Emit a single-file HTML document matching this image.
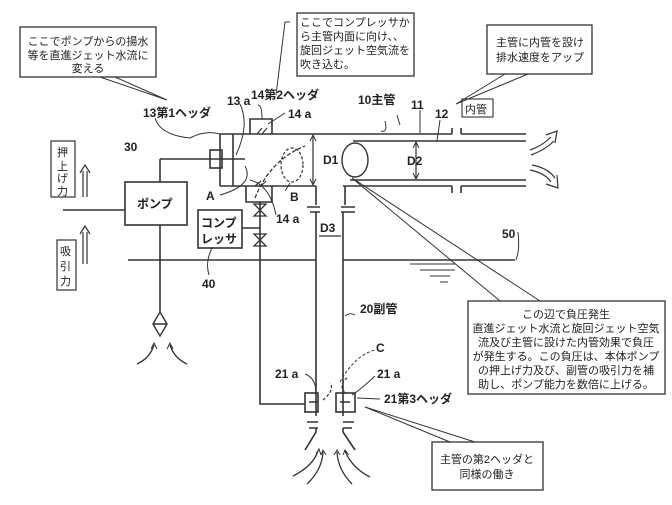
<!DOCTYPE html>
<html><head><meta charset="utf-8"><style>
body{margin:0;background:#fff}
svg{display:block}
text{font-family:"Liberation Sans","Noto Sans CJK JP",sans-serif;fill:#222}
.b{font-weight:bold;font-size:12px}
.s{font-size:11px}
</style></head><body>
<svg width="672" height="505" viewBox="0 0 672 505" xmlns="http://www.w3.org/2000/svg">
<g stroke="#333" stroke-width="1.6" fill="none">
<!-- callout boxes -->
<rect x="20" y="27" width="136" height="50" stroke-width="1.3"/>
<path d="M100 77 L167 100 L115 77" stroke-width="1"/>
<rect x="297" y="13" width="117" height="63" stroke-width="1.3"/>
<path d="M290 22 L285 22 L276 95" stroke-width="1"/>
<rect x="487" y="25" width="105" height="49" stroke-width="1.3"/>
<path d="M505 74 L456 104 L528 74" stroke-width="1"/>
<rect x="462" y="99" width="31" height="18" stroke-width="1.1"/>
<rect x="468" y="301" width="197" height="93" stroke-width="1.3"/>
<path d="M352 178 L500 301 M352 178 L540 301" stroke-width="1"/>
<rect x="432" y="442" width="111" height="48" stroke-width="1.3"/>
<path d="M365 407 L450 442 M365 407 L475 442" stroke-width="1"/>

<!-- main pipe -->
<path d="M220 134 H452 M461 134 H526 M452 128 V134 M461 128 V134"/>
<path d="M353 141 H526 M350 180 H526"/>
<path d="M343 186 H452 M461 186 H526 M452 186 V193 M461 186 V193"/>
<path d="M220 134 V186 M233 134 V186 M220 186 H316"/>
<rect x="210" y="150" width="12" height="18"/>
<path d="M210 159 H245 M160 159 H210 M160 159 V182"/>
<!-- header 14 -->
<path d="M250 134 V119 H272 V134 M246 186 V202 H272 V186"/>
<path d="M257 134 L262 128 M262 134 L267 128 M255 186 L261 181 M261 186 L266 181" stroke-width="1.2"/>
<!-- D1, D2 -->
<path d="M313 136 V184 M416 143 V178" stroke-width="1.2"/>
<path d="M310 141 L313 135 L316 141 M310 179 L313 185 L316 179 M413 148 L416 142 L419 148 M413 173 L416 179 L419 173" stroke-width="1"/>
<!-- sub pipe -->
<path d="M316 186 V205 M307 207 H320 M310 212 H320 M316 212 V416 M345 186 V205 M341 207 H355 M341 212 H355 M343 212 V416"/>
<path d="M319 236 H341" stroke-width="1.2"/>
<!-- valves & compressor -->
<path d="M260 202 V404 H305"/>
<path d="M254 204 L266 216 H254 L266 204 Z M254 234 L266 246 H254 L266 234 Z" stroke-width="1.3"/>
<path d="M242 228 H260"/>
<rect x="198" y="210" width="44" height="38"/>
<rect x="125" y="182" width="62" height="43"/>
<!-- water line -->
<path d="M128 260 H316 M343 260 H515 M63 210 H125"/>
<path d="M410 264 H455 M420 270 H455 M430 276 H450 M440 282 H448" stroke-width="1"/>
<!-- pump pipe -->
<path d="M160 225 V312"/>
<path d="M160 312 L167 324 L160 336 L153 324 Z M153 324 H167" stroke-width="1.4"/>
<path d="M137 364 Q150 358 154 345 M187 364 Q174 358 170 345" stroke-width="1.3"/>
<path d="M151 349 L154 343 L157 349 M167 349 L170 343 L173 349" stroke-width="1"/>
<!-- header 21 -->
<rect x="305" y="393" width="13" height="19"/>
<rect x="336" y="393" width="19" height="19"/>
<path d="M309 402 H318 M340 402 H350"/>
<path d="M307 422 H318 M309 428 H318 M316 428 V432 L305 450 M343 422 H354 M343 428 H352 M343 428 V432 L355 450" />
<path d="M293 476 Q313 466 318 451 M307 484 Q322 470 323 452 M337 452 Q338 470 352 484 M345 451 Q352 468 370 477" stroke-width="1.3"/>
<path d="M316 454 L319 449 L321 455 M321 455 L323 450 L326 455 M334 455 L337 450 L340 455 M343 455 L345 450 L349 455" stroke-width="1"/>
<!-- arrows at right -->
<path d="M530 150 Q542 146 551 137 M531 155 Q545 150 554 141 M546 135 L557 131 L555 143" stroke-width="1.2"/>
<path d="M530 170 Q545 173 551 182 M532 165 Q548 168 555 178 M546 184 L558 188 L557 175" stroke-width="1.2"/>
<!-- up arrows -->
<path d="M83 197 V171 M87 197 V171 M80 173 L85 165 L90 173 M83 264 V232 M87 264 V232 M80 234 L85 226 L90 234" stroke-width="1.2"/>
<rect x="51" y="141" width="24" height="56" stroke-width="1.2"/>
<rect x="57" y="240" width="19" height="50" stroke-width="1.2"/>
<!-- ellipses -->
<ellipse cx="355" cy="160" rx="13" ry="17" stroke-width="1.4"/>
<ellipse cx="292" cy="165" rx="11" ry="17" stroke-dasharray="3 2" stroke-width="1.2"/>
<path d="M255 198 Q270 160 305 146" stroke-dasharray="4 2" stroke-width="1.3"/>
<path d="M323 400 Q335 390 330 383 M345 393 Q338 385 347 378" stroke-dasharray="3 2" stroke-width="1.2"/>
<path d="M340 382 Q355 355 375 350" stroke-dasharray="3 2" stroke-width="1"/>
<!-- leaders -->
<path d="M155 118 Q160 135 190 138 Q205 130 220 134 M240 104 Q250 125 236 155 M258 105 Q262 105 262 119 M285 113 L268 124 M245 166 Q255 185 220 195 M285 191 L290 183 M250 180 Q270 185 276 215 M355 315 Q350 312 345 316 M305 374 Q316 378 316 393 M375 376 Q360 390 352 395 M380 399 L357 398 M209 275 Q205 262 212 248 M518 232 Q520 250 516 260 M400 125 L397 115 M420 133 L420 110 M437 141 L440 120 M385 121 Q388 133 381 131" stroke-width="1"/>
</g>
<g>
<text class="s" x="88" y="45" text-anchor="middle">ここでポンプからの揚水</text>
<text class="s" x="88" y="59" text-anchor="middle">等を直進ジェット水流に</text>
<text class="s" x="88" y="72" text-anchor="middle">変える</text>
<text class="s" x="300" y="26">ここでコンプレッサか</text>
<text class="s" x="300" y="40">ら主管内面に向け、、</text>
<text class="s" x="300" y="54">旋回ジェット空気流を</text>
<text class="s" x="300" y="68">吹き込む。</text>
<text class="s" x="540" y="46" text-anchor="middle">主管に内管を設け</text>
<text class="s" x="540" y="61" text-anchor="middle">排水速度をアップ</text>
<text class="s" x="465" y="113">内管</text>
<text class="s" x="566" y="318" text-anchor="middle">この辺で負圧発生</text>
<text class="s" x="566" y="332" text-anchor="middle">直進ジェット水流と旋回ジェット空気</text>
<text class="s" x="566" y="346" text-anchor="middle">流及び主管に設けた内管効果で負圧</text>
<text class="s" x="566" y="360" text-anchor="middle">が発生する。この負圧は、本体ポンプ</text>
<text class="s" x="566" y="374" text-anchor="middle">の押上げ力及び、副管の吸引力を補</text>
<text class="s" x="566" y="388" text-anchor="middle">助し、ポンプ能力を数倍に上げる。</text>
<text class="s" x="487" y="463" text-anchor="middle">主管の第2ヘッダと</text>
<text class="s" x="487" y="478" text-anchor="middle">同様の働き</text>
<text class="b" x="143" y="117">13第1ヘッダ</text>
<text class="b" x="227" y="105">13 a</text>
<text class="b" x="251" y="99">14第2ヘッダ</text>
<text class="b" x="288" y="118">14 a</text>
<text class="b" x="358" y="104">10主管</text>
<text class="b" x="411" y="109">11</text>
<text class="b" x="435" y="118">12</text>
<text class="b" x="124" y="151">30</text>
<text class="b" x="137" y="208">ポンプ</text>
<text class="b" x="201" y="227">コンプ</text>
<text class="b" x="201" y="243">レッサ</text>
<text class="b" x="206" y="200">A</text>
<text class="b" x="290" y="201">B</text>
<text class="b" x="323" y="164">D1</text>
<text class="b" x="407" y="165">D2</text>
<text class="b" x="276" y="223">14 a</text>
<text class="b" x="320" y="232">D3</text>
<text class="b" x="202" y="288">40</text>
<text class="b" x="502" y="238">50</text>
<text class="b" x="360" y="313">20副管</text>
<text class="b" x="376" y="352">C</text>
<text class="b" x="275" y="378">21 a</text>
<text class="b" x="377" y="378">21 a</text>
<text class="b" x="384" y="403">21第3ヘッダ</text>
<text class="s" x="57" y="156">押</text>
<text class="s" x="57" y="170">上</text>
<text class="s" x="57" y="182">げ</text>
<text class="s" x="57" y="195">力</text>
<text class="s" x="60" y="255">吸</text>
<text class="s" x="60" y="270">引</text>
<text class="s" x="60" y="285">力</text>
</g>
</svg>
</body></html>
